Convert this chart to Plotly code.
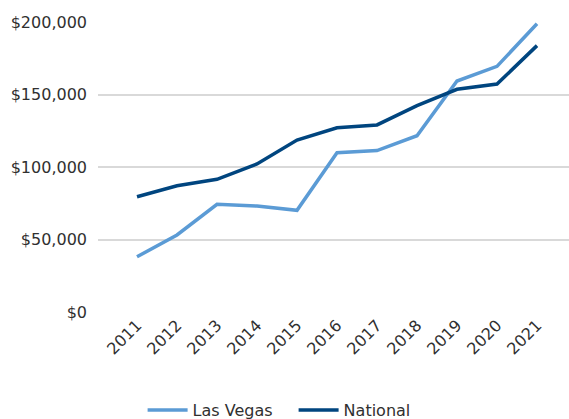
import plotly.graph_objects as go

years = [2011, 2012, 2013, 2014, 2015, 2016, 2017, 2018, 2019, 2020, 2021]
year_labels = [str(y) for y in years]
las_vegas = [38100, 53100, 74300, 73100, 70100, 109900, 111300, 121600, 159300, 169400, 198800]
national = [79500, 87100, 91500, 102100, 118600, 127100, 129000, 142300, 153600, 157200, 183700]
y_ticks = [0, 50000, 100000, 150000, 200000]
y_tick_labels = ["$0", "$50,000", "$100,000", "$150,000", "$200,000"]

FONT = "DejaVu Sans"
TXT = "#303030"

fig = go.Figure()
fig.add_trace(go.Scatter(x=years, y=las_vegas, name="Las Vegas", mode="lines",
                         line=dict(color="#5B9BD5", width=3.5), cliponaxis=False))
fig.add_trace(go.Scatter(x=years, y=national, name="National", mode="lines",
                         line=dict(color="#00457F", width=3.5), cliponaxis=False))

fig.update_layout(
    width=569, height=419,
    margin=dict(l=98, r=0, t=22, b=107),
    paper_bgcolor="white", plot_bgcolor="white",
    font=dict(family=FONT, size=16, color=TXT),
    showlegend=True,
    legend=dict(orientation="h", xref="container", yref="container",
                x=0.516, xanchor="center", y=0.021, yanchor="middle",
                font=dict(family=FONT, size=16, color=TXT),
                itemwidth=40, entrywidthmode="pixels", entrywidth=96),
)
fig.update_xaxes(
    range=[2010.025, 2021.8], tickmode="array", tickvals=years, ticktext=year_labels,
    tickangle=-45, showgrid=False, showline=False, zeroline=False, ticks="",
    tickfont=dict(family=FONT, size=16, color=TXT),
)
fig.update_yaxes(
    range=[0, 200000], tickmode="array", tickvals=y_ticks, ticktext=y_tick_labels,
    showgrid=True, gridcolor="#D9D9D9", gridwidth=1.5, zeroline=False,
    showline=False, ticks="", ticklabelstandoff=10,
    tickfont=dict(family=FONT, size=16, color=TXT),
)
fig.write_html("out.html", config={"displayModeBar": False},
               post_script="document.body.style.margin='0';document.body.style.overflow='hidden';")
